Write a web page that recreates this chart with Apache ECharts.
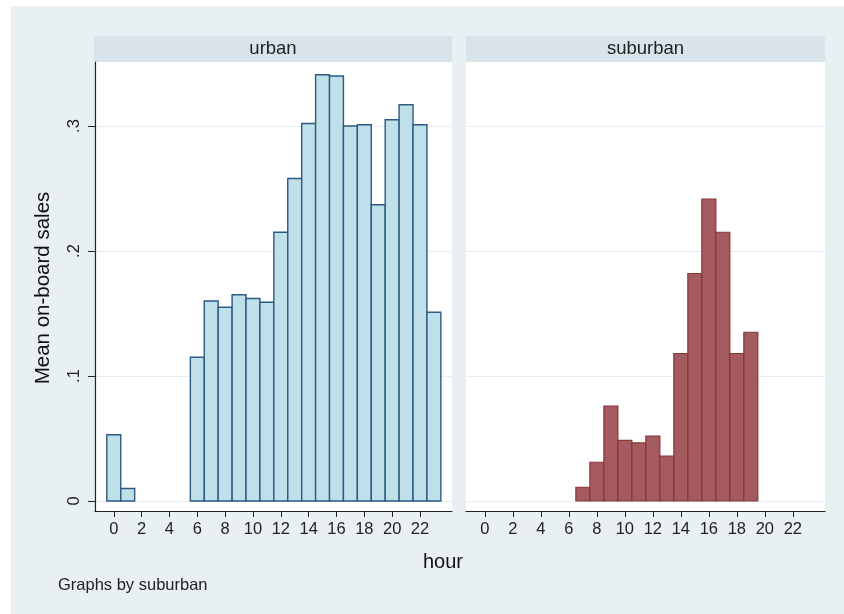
<!DOCTYPE html>
<html>
<head>
<meta charset="utf-8">
<title>Mean on-board sales by hour</title>
<script src="https://cdn.jsdelivr.net/npm/echarts@6/dist/echarts.min.js"></script>
<style>
  html, body { margin: 0; padding: 0; background: #ffffff; }
  #chart { width: 844px; height: 614px; }
</style>
</head>
<body>
<div id="chart"></div>
<script>
// Hour of day for each bar, per panel
const urbanHours = [0, 1, 6, 7, 8, 9, 10, 11, 12, 13, 14, 15, 16, 17, 18, 19, 20, 21, 22, 23];
const urbanSales = [0.053, 0.010, 0.115, 0.160, 0.155, 0.165, 0.162, 0.159, 0.215, 0.258, 0.302, 0.341, 0.340, 0.300, 0.301, 0.237, 0.305, 0.317, 0.301, 0.151];

const suburbanHours = [7, 8, 9, 10, 11, 12, 13, 14, 15, 16, 17, 18, 19];
const suburbanSales = [0.011, 0.031, 0.076, 0.0485, 0.0465, 0.052, 0.036, 0.118, 0.182, 0.2415, 0.215, 0.118, 0.135];

const panelTitles = ['urban', 'suburban'];
const hourTicks = [0, 2, 4, 6, 8, 10, 12, 14, 16, 18, 20, 22];
const salesTicks = [0, 0.1, 0.2, 0.3];
const salesTickLabels = ['0', '.1', '.2', '.3'];

const FONT = 'Liberation Sans, Arial, sans-serif';
const BG = '#e8f0f3';
const STRIP = '#d8e4ea';
const GRID_LINE = '#e6eef1';

const X_MIN = -1.35, X_MAX = 24.3;
const Y_MIN = -0.008, Y_MAX = 0.3512;

const grids = [
  { left: 95, top: 62, width: 357, height: 449 },
  { left: 466, top: 62, width: 359, height: 449 }
];

function histItem(fill, stroke, lw) {
  return function (params, api) {
    const h = api.value(0), v = api.value(1);
    const p0 = api.coord([h - 0.5, v]);
    const p1 = api.coord([h + 0.5, 0]);
    return {
      type: 'rect',
      shape: { x: p0[0], y: p0[1], width: p1[0] - p0[0], height: p1[1] - p0[1] },
      style: { fill: fill, stroke: stroke, lineWidth: lw }
    };
  };
}

function xAxisFor(i) {
  return {
    type: 'value', gridIndex: i, min: X_MIN, max: X_MAX,
    axisLine: { show: true, onZero: false, lineStyle: { color: '#222', width: 1.2 } },
    axisTick: { show: true, customValues: hourTicks, length: 6, lineStyle: { color: '#222', width: 1 } },
    axisLabel: { show: true, customValues: hourTicks, margin: 10, color: '#222', fontFamily: FONT, fontSize: 16.5 },
    splitLine: { show: false }
  };
}

function yAxisFor(i) {
  return {
    type: 'value', gridIndex: i, min: Y_MIN, max: Y_MAX,
    axisLine: { show: i === 0, onZero: false, lineStyle: { color: '#222', width: 1.2 } },
    axisTick: { show: i === 0, customValues: salesTicks, length: 7, lineStyle: { color: '#222', width: 1 } },
    axisLabel: {
      show: i === 0, customValues: salesTicks, rotate: 90, margin: 12,
      color: '#222', fontFamily: FONT, fontSize: 16.5,
      formatter: function (val) {
        const k = salesTicks.findIndex(t => Math.abs(t - val) < 1e-9);
        return k >= 0 ? salesTickLabels[k] : '';
      }
    },
    splitLine: { show: true, lineStyle: { color: GRID_LINE, width: 1 } }
  };
}

const chart = echarts.init(document.getElementById('chart'), null, { renderer: 'canvas' });

chart.setOption({
  backgroundColor: '#ffffff',
  animation: false,
  graphic: [
    { type: 'rect', z: -10, shape: { x: 11, y: 6, width: 833, height: 608 }, style: { fill: BG } },
    { type: 'rect', z: -5, shape: { x: 94, y: 36, width: 358, height: 26 }, style: { fill: STRIP } },
    { type: 'rect', z: -5, shape: { x: 466, y: 36, width: 359, height: 26 }, style: { fill: STRIP } },
    { type: 'rect', z: -5, shape: { x: 95, y: 62, width: 357, height: 449 }, style: { fill: '#ffffff' } },
    { type: 'rect', z: -5, shape: { x: 466, y: 62, width: 359, height: 449 }, style: { fill: '#ffffff' } },
    { type: 'text', x: 273, y: 49, style: { text: panelTitles[0], fill: '#222', font: '18.5px ' + FONT, align: 'center', verticalAlign: 'middle' } },
    { type: 'text', x: 645.5, y: 49, style: { text: panelTitles[1], fill: '#222', font: '18.5px ' + FONT, align: 'center', verticalAlign: 'middle' } },
    { type: 'text', x: 443, y: 562, style: { text: 'hour', fill: '#111', font: '20px ' + FONT, align: 'center', verticalAlign: 'middle' } },
    { type: 'text', x: 58, y: 585, style: { text: 'Graphs by suburban', fill: '#222', font: '16.5px ' + FONT, align: 'left', verticalAlign: 'middle' } },
    { type: 'text', x: 43, y: 288, rotation: Math.PI / 2, style: { text: 'Mean on-board sales', fill: '#111', font: '20.5px ' + FONT, align: 'center', verticalAlign: 'middle' } }
  ],
  grid: grids,
  xAxis: [xAxisFor(0), xAxisFor(1)],
  yAxis: [yAxisFor(0), yAxisFor(1)],
  series: [
    {
      type: 'custom', name: panelTitles[0], xAxisIndex: 0, yAxisIndex: 0,
      renderItem: histItem('#bfdfe9', '#2b5a82', 1.4),
      encode: { x: 0, y: 1 },
      data: urbanHours.map((h, i) => [h, urbanSales[i]])
    },
    {
      type: 'custom', name: panelTitles[1], xAxisIndex: 1, yAxisIndex: 1,
      renderItem: histItem('#a35b60', '#8b343a', 1.2),
      encode: { x: 0, y: 1 },
      data: suburbanHours.map((h, i) => [h, suburbanSales[i]])
    }
  ]
});
</script>
</body>
</html>
